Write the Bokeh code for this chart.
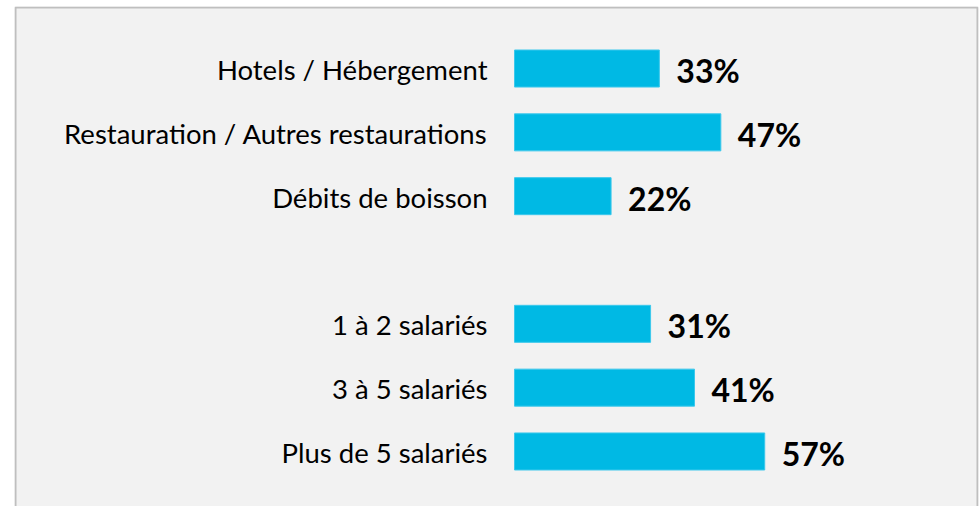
from bokeh.plotting import figure
from bokeh.models import Range1d, ColumnDataSource
from bokeh.core.properties import value
from bokeh.embed import file_html
from bokeh.resources import INLINE

categories = ["Hotels / Hébergement", "Restauration / Autres restaurations", "Débits de boisson",
              "1 à 2 salariés", "3 à 5 salariés", "Plus de 5 salariés"]
values = [33, 47, 22, 31, 41, 57]
slots = [0, 1, 2, 4, 5, 6]
labels = [f"{v}%" for v in values]

W, H = 980, 506
LEFT, TOP, RIGHT = 14, 6, 2
fw = W - LEFT - RIGHT
fh = H - TOP
scale = 4.39           # px per percent
bar_px0 = 514 - LEFT   # frame px where value 0 sits
x0 = -bar_px0 / scale
x1 = (fw - bar_px0) / scale
slot_px = 63.8
y_top = -(68 - TOP) / slot_px
y_bot = 6 + (H - 451) / slot_px

p = figure(width=W, height=H, output_backend="svg", toolbar_location=None,
           x_range=Range1d(x0, x1), y_range=Range1d(y_bot, y_top),
           min_border_left=LEFT, min_border_right=RIGHT, min_border_top=TOP, min_border_bottom=0)
p.axis.visible = False
p.grid.visible = False
p.outline_line_color = None
p.background_fill_color = "#F2F2F2"
p.border_fill_color = "white"

src = ColumnDataSource(dict(y=slots, v=values, cat=categories, lab=labels, zero=[0] * len(values)))
p.hbar(y="y", left=0, right="v", height=0.58, source=src, fill_color="#00B9E4", line_color="#3CC8EC", line_width=1)

p.text(x="zero", y="y", text="cat", source=src, x_offset=-27, y_offset=1, text_align="right", text_baseline="middle",
       text_font=value("Lato"), text_font_size="27.5px", text_color="#000000")
p.text(x="v", y="y", text="lab", source=src, x_offset=17, y_offset=2, text_align="left", text_baseline="middle",
       text_font=value("Lato"), text_font_style="bold", text_font_size="32px", text_color="#000000")

# border (left, top, right) of the panel, 1px inside the frame edges
bx0 = x0 + 1 / scale
bx1 = x1 - 1 / scale
by_t = y_top + 1 / slot_px
by_b = y_bot + 1
p.line(x=[bx0, bx0, bx1, bx1], y=[by_b, by_t, by_t, by_b], line_color="#BFBFBF", line_width=2)

open("out.html", "w").write(file_html(p, INLINE))
